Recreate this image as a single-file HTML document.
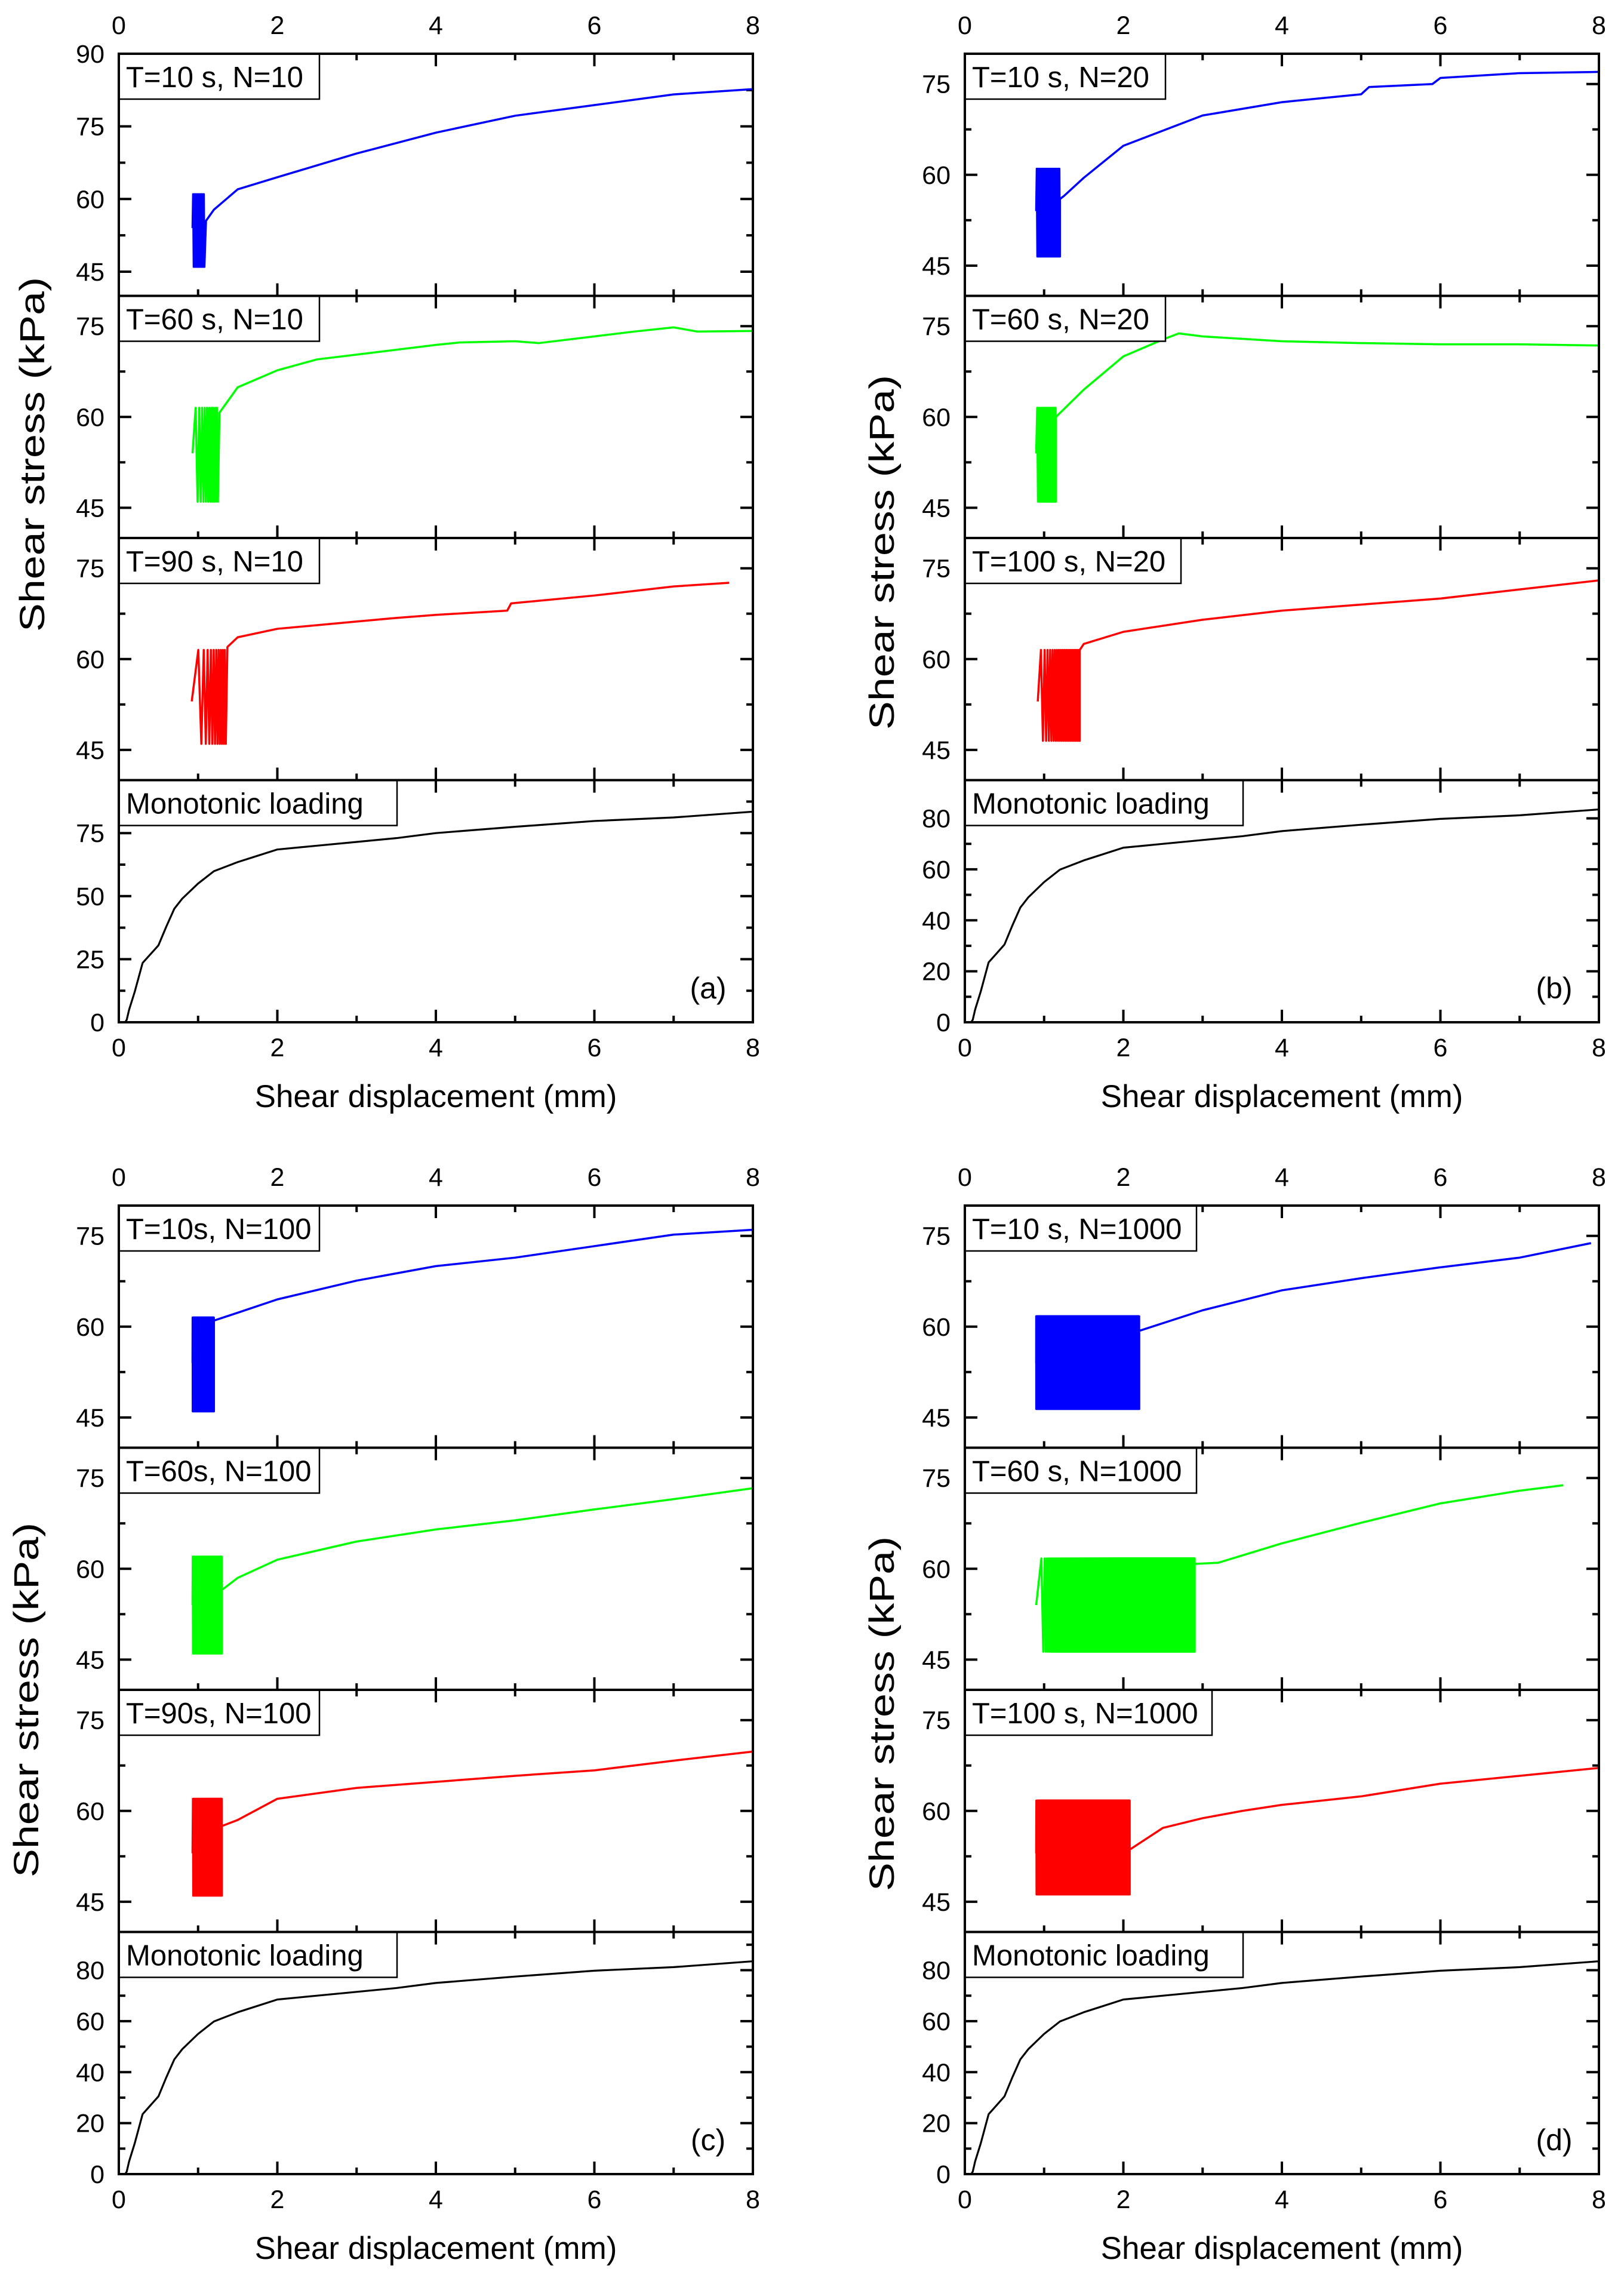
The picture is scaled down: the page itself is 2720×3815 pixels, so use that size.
<!DOCTYPE html>
<html><head><meta charset="utf-8"><style>
html,body{margin:0;padding:0;background:#fff;}
svg{display:block;}
text{font-family:"Liberation Sans",Arial,sans-serif;fill:#000;}
</style></head><body>
<svg id="fig" xmlns="http://www.w3.org/2000/svg" width="2720" height="3815" viewBox="0 0 2720 3815"></svg>
<script>
// ---------- data ----------
const xTicks = [0, 2, 4, 6, 8];
const xMinor = [1, 3, 5, 7];
const cycTicks = [45, 60, 75];
const cycTicksA1 = [45, 60, 75, 90];
const monoTicksA = [0, 25, 50, 75];
const monoTicksB = [0, 20, 40, 60, 80];

// monotonic loading curve (x mm, y kPa)
const monoX = [0.08,0.1,0.13,0.2,0.3,0.4,0.5,0.6,0.7,0.8,1.0,1.2,1.5,1.7,2.0,2.5,3.0,3.5,4.0,5.0,6.0,7.0,8.0];
const monoY = [0,1,5,12,23.5,27,30.5,38,45,49,55,59.9,63.5,65.5,68.5,70,71.5,73,75,77.5,79.8,81.2,83.5];

// panel (a) N=10
const aBlueX = [1.1,1.2,1.5,2,3,4,5,6,7,8];
const aBlueY = [55.5,57.8,62,64.5,69.4,73.7,77.2,79.4,81.6,82.7];
const aGreenX = [1.27,1.5,2,2.5,3,4,4.3,5,5.3,6,6.5,7,7.3,8];
const aGreenY = [60.7,64.9,67.7,69.5,70.3,71.9,72.3,72.5,72.2,73.3,74.1,74.8,74.1,74.2];
const aRedX = [1.37,1.5,2,3,3.5,4,4.9,4.95,6,7,7.7];
const aRedY = [62,63.6,65,66.2,66.8,67.3,68,69.2,70.5,72,72.6];

// panel (b) N=20
const bBlueX = [1.2,1.25,1.5,2,3,4,5,5.1,5.9,6,7,8];
const bBlueY = [56,56.5,59.5,64.8,69.8,72,73.3,74.5,75,76,76.8,77];
const bGreenX = [1.15,1.5,2,2.5,2.7,3,4,5,6,7,8];
const bGreenY = [60,64.5,70,72.8,73.8,73.3,72.5,72.2,72,72,71.8];
const bRedX = [1.45,1.5,2,3,4,5,6,7,8];
const bRedY = [61.5,62.5,64.5,66.5,68,69,70,71.5,73];

// panel (c) N=100
const cBlueX = [1.2,1.5,2,3,4,5,6,7,8];
const cBlueY = [61,62.3,64.5,67.6,70,71.4,73.3,75.2,76];
const cGreenX = [1.3,1.5,2,3,4,5,6,7,8];
const cGreenY = [56.5,58.5,61.5,64.5,66.5,68,69.8,71.5,73.3];
const cRedX = [1.3,1.5,2,3,4,5,6,7,8];
const cRedY = [57.5,58.5,62,63.8,64.8,65.8,66.7,68.3,69.8];

// panel (d) N=1000
const dBlueX = [2.2,3,4,5,6,7,7.9];
const dBlueY = [59.3,62.7,66,68,69.8,71.4,73.8];
const dGreenX = [2.9,3.2,4,5,6,7,7.55];
const dGreenY = [60.8,61,64.2,67.6,70.8,72.9,73.8];
const dRedX = [2.08,2.5,3,3.5,4,5,6,7,8];
const dRedY = [53.6,57.2,58.8,60,61,62.4,64.5,65.8,67.1];

// cyclic phase: [xStart, xEnd, low, high, cycles, startValue, spacingWarp]
const aBlueCyc  = [0.93,1.08,46,61,10,54,1];
const aGreenCyc = [0.93,1.25,46,61.5,10,54,0.7];
const aRedCyc   = [0.92,1.35,46,61.5,10,53,0.55];
const bBlueCyc  = [0.9,1.2,46.5,61,20,54,1];
const bGreenCyc = [0.9,1.15,46,61.5,20,54,0.8];
const bRedCyc   = [0.92,1.45,46.5,61.5,20,53,0.7];
const cBlueCyc  = [0.93,1.2,46,61.5,100,54,1];
const cGreenCyc = [0.93,1.3,46,62,100,54,0.9];
const cRedCyc   = [0.93,1.3,46,62,100,53,0.8];
const dBlueCyc  = [0.9,2.2,46.4,61.7,1000,54,1];
const dGreenCyc = [0.9,2.9,46.3,61.7,1000,54,0.45];
const dRedCyc   = [0.9,2.08,46.2,61.7,1000,53,0.8];

// ---------- drawing ----------
const NS = "http://www.w3.org/2000/svg";
const svg = document.getElementById('fig');
function mk(tag, attrs, parent){
  const e = document.createElementNS(NS, tag);
  for (const k in attrs) e.setAttribute(k, attrs[k]);
  (parent||svg).appendChild(e);
  return e;
}
const W = 1062, SUBH = 405.5;

function drawSeries(g, sx, sy, cyc, xs, ys, color, name){
  let pts = [];
  const [x0,x1,lo,hi,n,st,warp] = cyc;
  pts.push([sx(x0), sy(st)]);
  const m = 2*n;
  for (let i=1;i<=m;i++){
    const t = Math.pow(i/m, warp);
    const x = x0 + (x1-x0)*t;
    pts.push([sx(x), sy(i%2===1 ? hi : lo)]);
  }
  for (let i=0;i<xs.length;i++) pts.push([sx(xs[i]), sy(ys[i])]);
  const p = mk('polyline', {points: pts.map(p=>p[0].toFixed(2)+','+p[1].toFixed(2)).join(' '), fill:'none', stroke:color, 'stroke-width':3.5, 'stroke-linejoin':'round'}, g);
  
  
}

function drawSub(g, L, T, ymin, ymax, yMaj, yMin, label, opts){
  const B = T + SUBH, R = L + W;
  const sx = v => L + (v/8)*W;
  const sy = v => B - (v-ymin)/(ymax-ymin)*SUBH;
  const tk = (x1,y1,x2,y2)=>mk('line',{x1,y1,x2,y2,stroke:'#000','stroke-width':4},g);
  xTicks.forEach(v=>{ tk(sx(v),B,sx(v),B-21); tk(sx(v),T,sx(v),T+21); });
  xMinor.forEach(v=>{ tk(sx(v),B,sx(v),B-11); tk(sx(v),T,sx(v),T+11); });
  yMaj.forEach(v=>{
    tk(L,sy(v),L+21,sy(v)); tk(R,sy(v),R-21,sy(v));
    const t = mk('text',{x:L-24,y:sy(v)+15,'font-size':43,'text-anchor':'end'},g);
    t.textContent = v;
    
    
  });
  yMin.forEach(v=>{ tk(L,sy(v),L+11,sy(v)); tk(R,sy(v),R-11,sy(v)); });
  if (opts.series) opts.series(sx, sy);
  const tw = label.length * 26 + 24;
  const bx = mk('rect',{x:L,y:T,width:opts.boxW||tw,height:76,fill:'#fff',stroke:'#000','stroke-width':2.5},g);
  
  
  const lt = mk('text',{x:L+12,y:T+56,'font-size':49},g);
  lt.textContent = label;
  
  
  mk('rect',{x:L,y:T,width:W,height:SUBH,fill:'none',stroke:'#000','stroke-width':4},g);
  return {sx, sy};
}

function drawFigure(id, L, T, cfg){
  const g = mk('g',{});
  
  
  cfg.subs.forEach((s,i)=>{
    const sg = mk('g',{},g);
    
    
    drawSub(sg, L, T+i*SUBH, s.ymin, s.ymax, s.maj, s.min, s.label, {boxW:s.boxW, series:(sx,sy)=>{
      if (s.cyc) drawSeries(sg, sx, sy, s.cyc, s.xs, s.ys, s.color, s.name+'-curve');
      else {
        const pts = s.xs.map((x,k)=>sx(x).toFixed(2)+','+sy(s.ys[k]).toFixed(2)).join(' ');
        const p = mk('polyline',{points:pts,fill:'none',stroke:'#000','stroke-width':3.2,'stroke-linejoin':'round'},sg);
        
        
      }
    }});
  });
  const B = T + 4*SUBH;
  xTicks.forEach(v=>{
    const x = L + v/8*W;
    const t1 = mk('text',{x:x,y:T-33,'font-size':43,'text-anchor':'middle'},g);
    t1.textContent = v;
    
    
    const t2 = mk('text',{x:x,y:B+57,'font-size':43,'text-anchor':'middle'},g);
    t2.textContent = v;
    
    
  });
  const xt = mk('text',{x:L+W/2,y:B+142,'font-size':53,'text-anchor':'middle'},g);
  xt.textContent = 'Shear displacement (mm)';
  
  
  const yx = L - cfg.ytOff, yy = cfg.ytY;
  const yt = mk('text',{x:yx,y:yy,'font-size':58,'text-anchor':'middle',textLength:594,lengthAdjust:'spacingAndGlyphs',transform:`rotate(-90 ${yx} ${yy})`},g);
  yt.textContent = 'Shear stress (kPa)';
  
  
  const pl = mk('text',{x:L+W-75,y:B-40,'font-size':50,'text-anchor':'middle'},g);
  pl.textContent = '('+id+')';
  
  
}

const cycMin = [52.5, 67.5];
const monoA = {name:'monotonic-panel', ymin:0, ymax:96, maj:monoTicksA, min:[12.5,37.5,62.5,87.5], label:'Monotonic loading', xs:monoX, ys:monoY};
const monoB = {name:'monotonic-panel', ymin:0, ymax:95, maj:monoTicksB, min:[10,30,50,70,90], label:'Monotonic loading', xs:monoX, ys:monoY};

drawFigure('a', 199, 90, {ytOff:125, ytY:761, subs:[
  {name:'t10-n10-panel', ymin:40, ymax:90, maj:cycTicksA1, min:[52.5,67.5,82.5], label:'T=10 s, N=10', cyc:aBlueCyc, xs:aBlueX, ys:aBlueY, color:'#0000ff'},
  {name:'t60-n10-panel', ymin:40, ymax:80, maj:cycTicks, min:cycMin, label:'T=60 s, N=10', cyc:aGreenCyc, xs:aGreenX, ys:aGreenY, color:'#00ff00'},
  {name:'t90-n10-panel', ymin:40, ymax:80, maj:cycTicks, min:cycMin, label:'T=90 s, N=10', cyc:aRedCyc, xs:aRedX, ys:aRedY, color:'#ff0000'},
  monoA]});
drawFigure('b', 1616, 90, {ytOff:119, ytY:925, subs:[
  {name:'t10-n20-panel', ymin:40, ymax:80, maj:cycTicks, min:cycMin, label:'T=10 s, N=20', cyc:bBlueCyc, xs:bBlueX, ys:bBlueY, color:'#0000ff'},
  {name:'t60-n20-panel', ymin:40, ymax:80, maj:cycTicks, min:cycMin, label:'T=60 s, N=20', cyc:bGreenCyc, xs:bGreenX, ys:bGreenY, color:'#00ff00'},
  {name:'t100-n20-panel', ymin:40, ymax:80, maj:cycTicks, min:cycMin, label:'T=100 s, N=20', cyc:bRedCyc, xs:bRedX, ys:bRedY, color:'#ff0000'},
  monoB]});
drawFigure('c', 199, 2019, {ytOff:135, ytY:2847, subs:[
  {name:'t10-n100-panel', ymin:40, ymax:80, maj:cycTicks, min:cycMin, label:'T=10s, N=100', cyc:cBlueCyc, xs:cBlueX, ys:cBlueY, color:'#0000ff'},
  {name:'t60-n100-panel', ymin:40, ymax:80, maj:cycTicks, min:cycMin, label:'T=60s, N=100', cyc:cGreenCyc, xs:cGreenX, ys:cGreenY, color:'#00ff00'},
  {name:'t90-n100-panel', ymin:40, ymax:80, maj:cycTicks, min:cycMin, label:'T=90s, N=100', cyc:cRedCyc, xs:cRedX, ys:cRedY, color:'#ff0000'},
  monoB]});
drawFigure('d', 1616, 2019, {ytOff:119, ytY:2870, subs:[
  {name:'t10-n1000-panel', ymin:40, ymax:80, maj:cycTicks, min:cycMin, label:'T=10 s, N=1000', cyc:dBlueCyc, xs:dBlueX, ys:dBlueY, color:'#0000ff'},
  {name:'t60-n1000-panel', ymin:40, ymax:80, maj:cycTicks, min:cycMin, label:'T=60 s, N=1000', cyc:dGreenCyc, xs:dGreenX, ys:dGreenY, color:'#00ff00'},
  {name:'t100-n1000-panel', ymin:40, ymax:80, maj:cycTicks, min:cycMin, label:'T=100 s, N=1000', cyc:dRedCyc, xs:dRedX, ys:dRedY, color:'#ff0000'},
  monoB]});
</script>
</body></html>
